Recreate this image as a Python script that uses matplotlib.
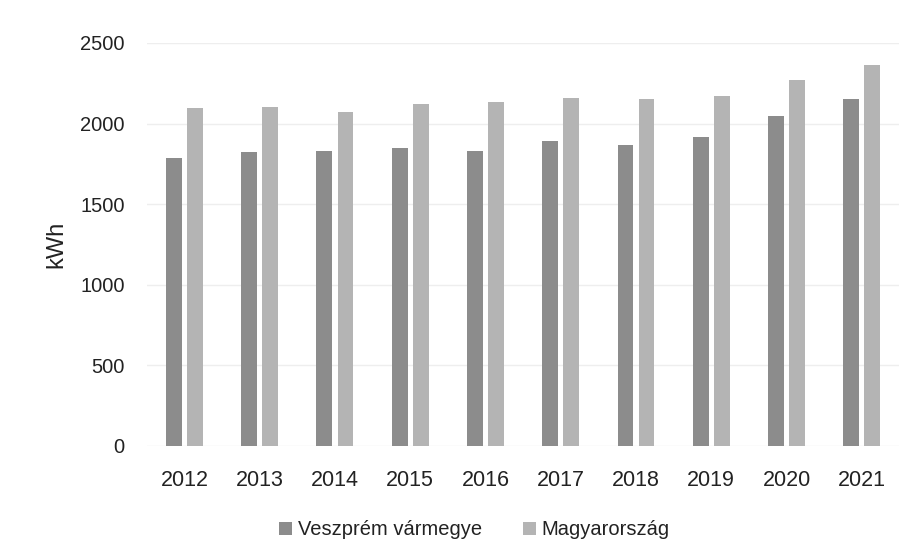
import numpy as np
import matplotlib.pyplot as plt

# Data
years = ["2012", "2013", "2014", "2015", "2016", "2017", "2018", "2019", "2020", "2021"]
veszprem = [1785, 1825, 1832, 1850, 1830, 1890, 1865, 1915, 2050, 2150]
magyar = [2095, 2100, 2072, 2120, 2132, 2160, 2150, 2170, 2270, 2365]
y_ticks = [0, 500, 1000, 1500, 2000, 2500]

plt.rcParams['font.family'] = ['Liberation Sans', 'DejaVu Sans']

fig = plt.figure(figsize=(9.15, 5.56), dpi=100)
ax = fig.add_axes([0.1604, 0.198, 0.8226, 0.7247])

x = np.arange(len(years))
w = 0.21
gap = 0.07
ax.bar(x - (w + gap) / 2, veszprem, width=w, color='#8c8c8c', label='Veszprém vármegye', zorder=2)
ax.bar(x + (w + gap) / 2, magyar, width=w, color='#b4b4b4', label='Magyarország', zorder=2)

ax.set_xlim(-0.5, len(years) - 0.5)
ax.set_ylim(0, 2500)
ax.set_yticks(y_ticks)
ax.set_xticks(x)
ax.set_xticklabels(years)
ax.tick_params(axis='both', length=0, colors='#222222')
ax.tick_params(axis='y', pad=16, labelsize=14.5)
ax.tick_params(axis='x', pad=17, labelsize=15.5)
ax.grid(axis='y', color='#eeeeee', linewidth=1, zorder=0)
for s in ax.spines.values():
    s.set_visible(False)

ax.set_ylabel('kWh', fontsize=17, color='#222222', labelpad=9)

leg = fig.legend(loc='center', bbox_to_anchor=(0.5186, 0.047), ncol=2, frameon=False,
                 fontsize=14.5, handlelength=0.65, handleheight=0.65, handletextpad=0.3,
                 columnspacing=2.0)
for t in leg.get_texts():
    t.set_color('#222222')

fig.savefig('out.png', dpi=100)
